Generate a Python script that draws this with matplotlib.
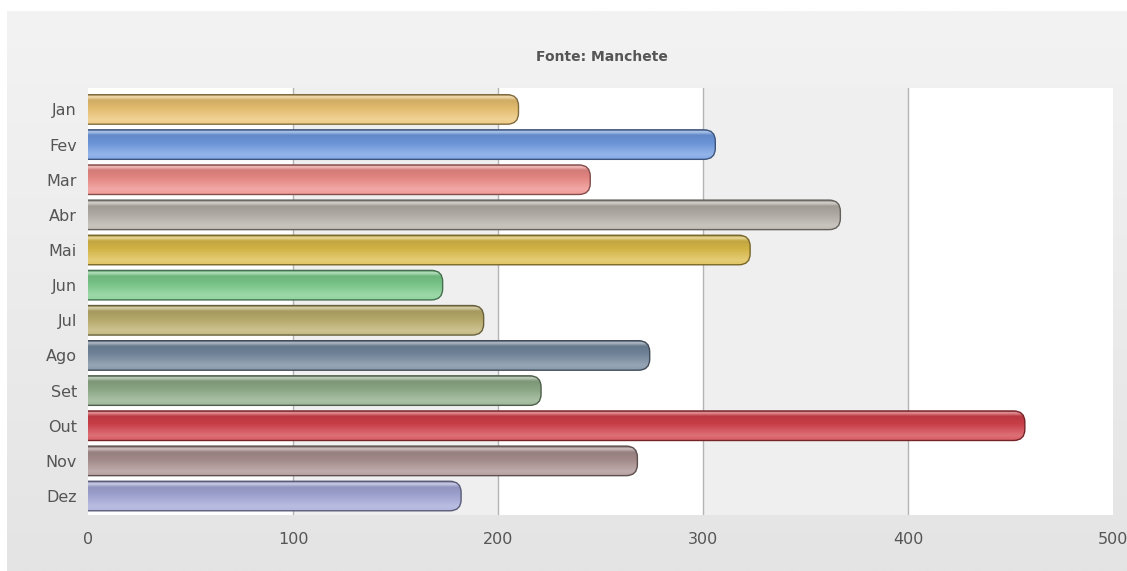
import numpy as np
import matplotlib
matplotlib.use("Agg")
import matplotlib.pyplot as plt
from matplotlib.patches import FancyBboxPatch
from matplotlib.colors import to_rgb

months = ["Jan", "Fev", "Mar", "Abr", "Mai", "Jun", "Jul", "Ago", "Set", "Out", "Nov", "Dez"]
values = [210, 306, 245, 367, 323, 173, 193, 274, 221, 457, 268, 182]
colors = ["#ecc372", "#6f9be2", "#ee8c88", "#b5b0a8", "#dcbc48", "#7ccc8c",
          "#bcae6c", "#74889e", "#8eac88", "#d2404a", "#aa9090", "#a4a8d8"]
xticks = [0, 100, 200, 300, 400, 500]
title = "Fonte: Manchete"

W, H = 1127, 571
fig = plt.figure(figsize=(W / 100, H / 100), dpi=100)
fig.patch.set_facecolor("white")

# outer gray gradient card
bg = fig.add_axes([7 / W, 0, 1 - 7 / W, 1 - 11 / H], zorder=-5)
grad = np.linspace(0, 1, 256)[:, None]
c0 = np.array(to_rgb("#f3f3f3")); c1 = np.array(to_rgb("#e4e4e4"))
img = c0[None, None, :] * (1 - grad[..., None]) + c1[None, None, :] * grad[..., None]
bg.imshow(img, aspect="auto", extent=(0, 1, 0, 1), origin="upper")
bg.set_axis_off()

ax = fig.add_axes([88 / W, 1 - 515 / H, (1113 - 88) / W, (515 - 88) / H])
ax.set_xlim(0, 500)
n = len(months)
ax.set_ylim(n - 1 + 0.54, -0.61)
ax.set_facecolor("white")
for s in ax.spines.values():
    s.set_visible(False)

# alternating bands
for i in range(len(xticks) - 1):
    if i % 2 == 1:
        ax.axvspan(xticks[i], xticks[i + 1], color="#efefef", zorder=0, lw=0)
for xt in xticks[1:-1]:
    ax.axvline(xt, color="#b4b4b4", lw=1.0, zorder=0.5)

def mix(c, t, w):
    c = np.array(to_rgb(c)); t = np.array(to_rgb(t))
    return c * (1 - w) + t * w

bh = 0.84
for i, (v, c) in enumerate(zip(values, colors)):
    y0 = i - bh / 2
    # vertical gradient (top -> bottom in screen)
    N = 64
    stops = [(0.0, mix(c, "black", 0.35)), (0.08, mix(c, "white", 0.45)),
             (0.2, mix(c, "black", 0.12)), (0.45, mix(c, "black", 0.05)),
             (0.85, mix(c, "white", 0.25)), (1.0, mix(c, "white", 0.15))]
    pos = np.array([s[0] for s in stops])
    cols = np.array([s[1] for s in stops])
    t = np.linspace(0, 1, N)
    arr = np.stack([np.interp(t, pos, cols[:, k]) for k in range(3)], axis=1)[:, None, :]
    patch = FancyBboxPatch((-10, y0), v + 10, bh,
                           boxstyle="round,pad=0,rounding_size=5.5",
                           mutation_aspect=0.058,
                           facecolor="none", edgecolor=mix(c, "black", 0.45),
                           lw=1.0, zorder=3)
    ax.add_patch(patch)
    im = ax.imshow(arr, aspect="auto", extent=(-10, v, y0 + bh, y0),
                   origin="upper", zorder=2, interpolation="bilinear")
    im.set_clip_path(patch)

ax.set_xlim(0, 500)
ax.set_ylim(n - 1 + 0.54, -0.61)
ax.set_yticks(range(n))
ax.set_yticklabels(months)
ax.set_xticks(xticks)
ax.set_xticklabels([str(x) for x in xticks])
ax.tick_params(axis="both", length=0, colors="#555555", labelsize=11.5)
ax.tick_params(axis="y", pad=8)
ax.tick_params(axis="x", pad=12)
for lab in ax.get_xticklabels() + ax.get_yticklabels():
    lab.set_color("#555555")

fig.text(602 / W, 1 - 57 / H, title, ha="center", va="center",
         fontsize=10, fontweight="bold", color="#555555")

fig.savefig("out.png", dpi=100)
